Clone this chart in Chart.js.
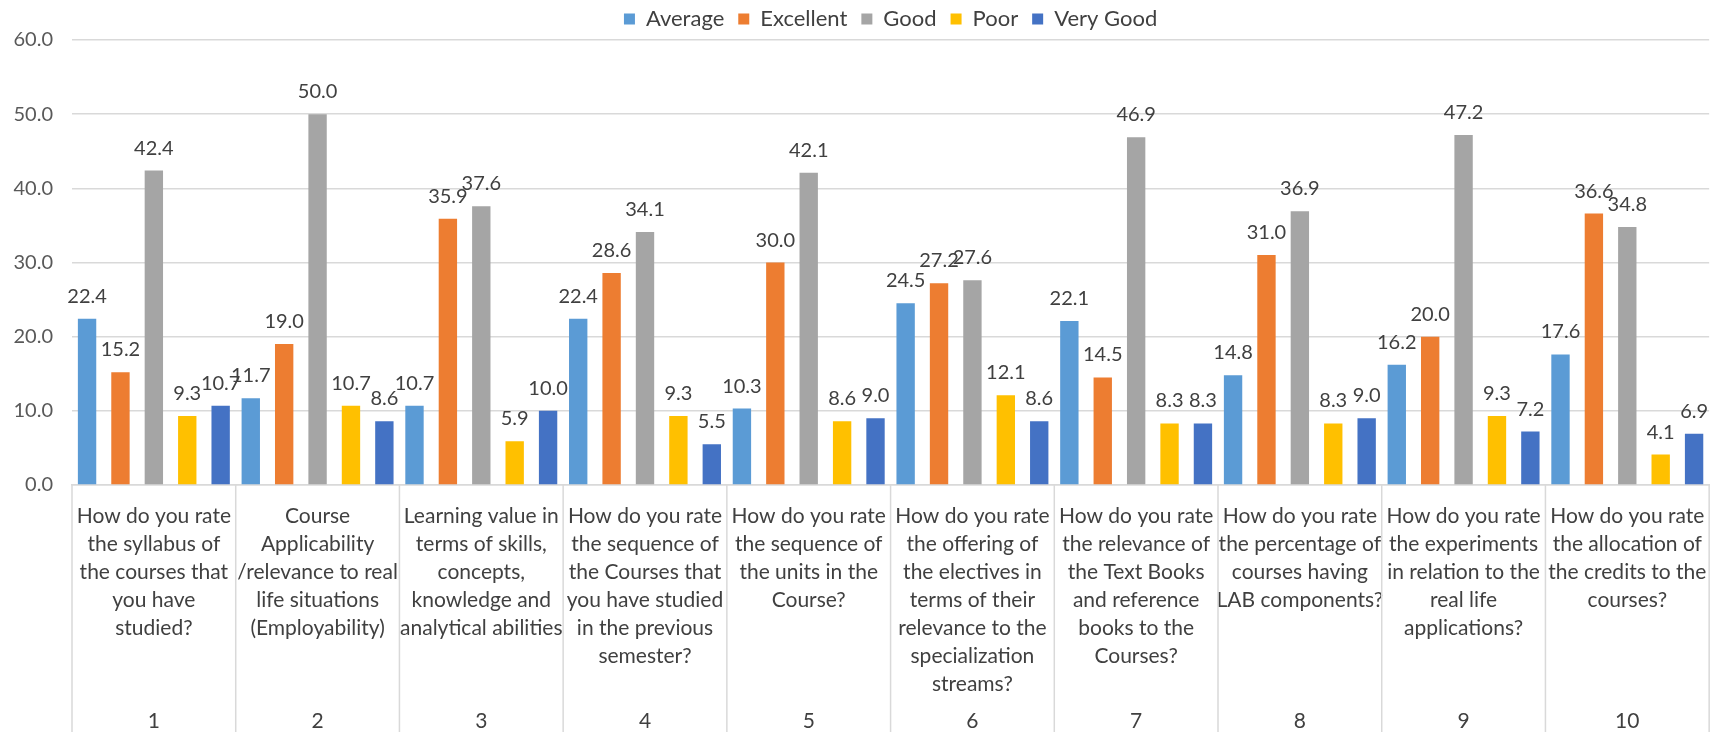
<!DOCTYPE html>
<html>
<head>
<meta charset="utf-8">
<script src="https://cdn.jsdelivr.net/npm/chart.js@4.4.1/dist/chart.umd.min.js"></script>
<style>
    html, body { margin: 0; padding: 0; background: #ffffff; }
    #wrap { width: 1724px; height: 732px; }
</style>
</head>
<body>
<div id="wrap"><canvas id="canvas-grafico" width="1724" height="732"></canvas></div>
<script>
const numeros = ["1", "2", "3", "4", "5", "6", "7", "8", "9", "10"];
const preguntas = [
    ["How do you rate", "the syllabus of", "the courses that", "you have", "studied?"],
    ["Course", "Applicability", "/relevance to real", "life situations", "(Employability)"],
    ["Learning value in", "terms of skills,", "concepts,", "knowledge and", "analytical abilities"],
    ["How do you rate", "the sequence of", "the Courses that", "you have studied", "in the previous", "semester?"],
    ["How do you rate", "the sequence of", "the units in the", "Course?"],
    ["How do you rate", "the offering of", "the electives in", "terms of their", "relevance to the", "specialization", "streams?"],
    ["How do you rate", "the relevance of", "the Text Books", "and reference", "books to the", "Courses?"],
    ["How do you rate", "the percentage of", "courses having", "LAB components?"],
    ["How do you rate", "the experiments", "in relation to the", "real life", "applications?"],
    ["How do you rate", "the allocation of", "the credits to the", "courses?"]
];

const average   = [22.4, 11.7, 10.7, 22.4, 10.3, 24.5, 22.1, 14.8, 16.2, 17.6];
const excellent = [15.2, 19.0, 35.9, 28.6, 30.0, 27.2, 14.5, 31.0, 20.0, 36.6];
const good      = [42.4, 50.0, 37.6, 34.1, 42.1, 27.6, 46.9, 36.9, 47.2, 34.8];
const poor      = [9.3, 10.7, 5.9, 9.3, 8.6, 12.1, 8.3, 8.3, 9.3, 4.1];
const veryGood  = [10.7, 8.6, 10.0, 5.5, 9.0, 8.6, 8.3, 9.0, 7.2, 6.9];

const yTicks = [0, 10, 20, 30, 40, 50, 60];

const FUENTE = "Lato, 'Noto Sans', sans-serif";
const GRIS = "#d9d9d9";

// etiquetas de valor encima de cada barra
const etiquetasValor = {
    id: "etiquetasValor",
    afterDatasetsDraw(chart) {
        const ctx = chart.ctx;
        ctx.save();
        ctx.font = "20px " + FUENTE;
        ctx.fillStyle = "#404040";
        ctx.textAlign = "center";
        ctx.textBaseline = "alphabetic";
        chart.data.datasets.forEach((ds, i) => {
            const meta = chart.getDatasetMeta(i);
            meta.data.forEach((bar, j) => {
                ctx.fillText(ds.data[j].toFixed(1), bar.x, bar.y - 16);
            });
        });
        ctx.restore();
    }
};

// lineas verticales entre categorias en la zona de etiquetas
const separadores = {
    id: "separadores",
    afterDraw(chart) {
        const xs = chart.scales.x;
        const n = chart.data.labels.length;
        const ctx = chart.ctx;
        ctx.save();
        ctx.strokeStyle = GRIS;
        ctx.lineWidth = 1.5;
        for (let i = 0; i <= n; i++) {
            const px = xs.left + i * (xs.width / n);
            ctx.beginPath();
            ctx.moveTo(px, chart.chartArea.bottom);
            ctx.lineTo(px, chart.height);
            ctx.stroke();
        }
        ctx.restore();
    }
};

function serie(label, data, color) {
    return {
        label: label,
        data: data,
        backgroundColor: color,
        borderWidth: 0,
        categoryPercentage: 1.02,
        barPercentage: 0.55
    };
}

const data_grafico = {
    labels: preguntas,
    datasets: [
        serie("Average", average, "#5B9BD5"),
        serie("Excellent", excellent, "#ED7D31"),
        serie("Good", good, "#A5A5A5"),
        serie("Poor", poor, "#FFC000"),
        serie("Very Good", veryGood, "#4472C4")
    ]
};

const ctx_g = document.getElementById("canvas-grafico");
let grafico = new Chart(ctx_g, {
    type: "bar",
    data: data_grafico,
    plugins: [etiquetasValor, separadores],
    options: {
        responsive: false,
        animation: false,
        devicePixelRatio: 1,
        layout: { padding: { top: -6, right: 2, left: 0, bottom: 0 } },
        plugins: {
            tooltip: { enabled: false },
            legend: {
                position: "top",
                fullSize: false,
                labels: {
                    font: { family: FUENTE, size: 22 },
                    color: "#404040",
                    boxWidth: 11,
                    boxHeight: 11,
                    padding: 14
                }
            }
        },
        scales: {
            y: {
                min: 0,
                max: 60,
                afterBuildTicks: s => { s.ticks = yTicks.map(v => ({ value: v })); },
                afterFit: s => { s.width = 72; },
                ticks: {
                    padding: 19,
                    color: "#595959",
                    font: { family: FUENTE, size: 20 },
                    callback: v => Number(v).toFixed(1)
                },
                grid: { color: GRIS, lineWidth: 1.5, drawTicks: false },
                border: { display: false }
            },
            x: {
                type: "category",
                position: "bottom",
                weight: 0,
                afterFit: s => { s.height = 215; },
                ticks: {
                    autoSkip: false,
                    maxRotation: 0,
                    minRotation: 0,
                    padding: 17,
                    color: "#404040",
                    font: { family: FUENTE, size: 21, lineHeight: "28px" }
                },
                grid: { display: false, drawTicks: false },
                border: { display: true, color: GRIS, width: 1.5 }
            },
            x2: {
                type: "category",
                position: "bottom",
                weight: 1,
                labels: numeros,
                afterFit: s => { s.height = 32; },
                ticks: {
                    autoSkip: false,
                    maxRotation: 0,
                    minRotation: 0,
                    padding: 9,
                    color: "#404040",
                    font: { family: FUENTE, size: 21 }
                },
                grid: { display: false, drawTicks: false },
                border: { display: false }
            }
        }
    }
});
</script>
</body>
</html>
